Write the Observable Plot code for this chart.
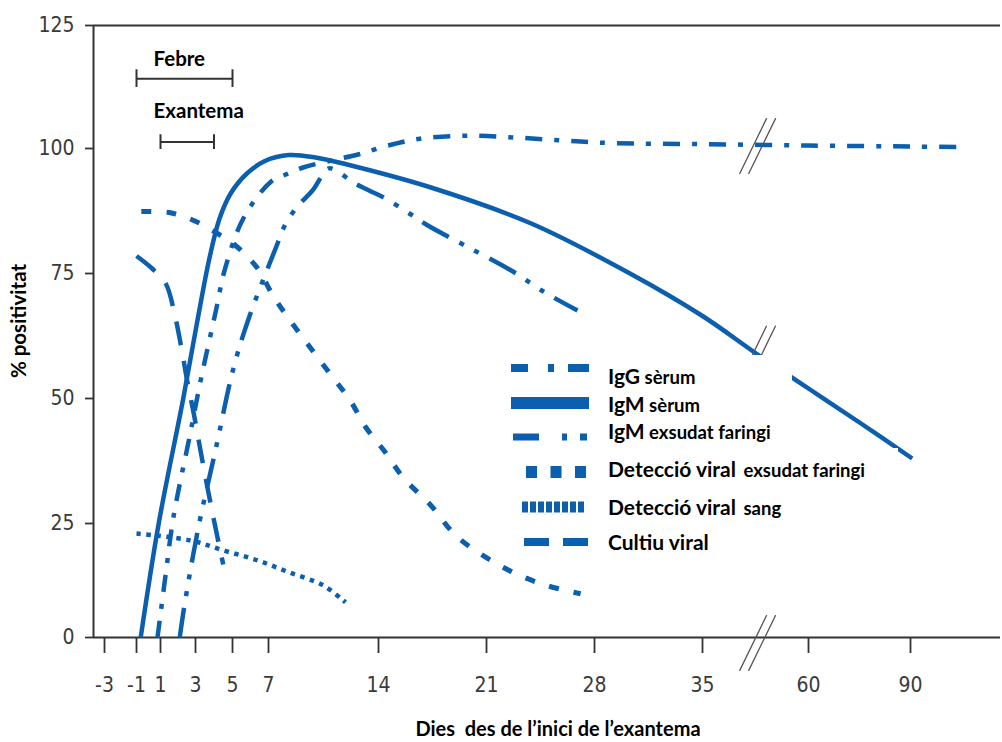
<!DOCTYPE html>
<html><head><meta charset="utf-8">
<script src="https://cdn.jsdelivr.net/npm/d3@7"></script>
<script src="https://cdn.jsdelivr.net/npm/@observablehq/plot@0.6"></script>
<style>
body{margin:0;background:#fff;}
#chart{width:1002px;height:742px;}
</style></head><body><div id="chart"></div>
<script>
// ---- data (day since rash onset, % positivity) ----
const tickDays = [-3, -1, 1, 3, 5, 7, 14, 21, 28, 35, 60, 90];
const yTicks = [0, 25, 50, 75, 100, 125];

const iggSerum = [[0.75,0],[1.3,14],[1.75,26.5],[2.7,43],[3.3,54],[4.1,67.5],[4.6,76],[5.6,86],[7.1,93.2],[8.1,94.8],[9.2,96.2],[11,97.6],[12.7,98.8],[14.6,100.6],[16.7,102],[19.8,102.6],[23,102.2],[26.1,101.6],[29.1,101.1],[35,100.9],[60,100.6],[90,100.4],[104,100.3]];
const igmSerum = [[-0.65,0],[0.85,25],[2.3,50],[3.1,65.5],[3.75,78],[4.3,86],[4.9,91],[5.8,95],[6.8,97.5],[8.3,98.7],[10,98.2],[12,96.8],[17.4,92.2],[23.9,85],[30.3,75],[35,66.5],[48,58.8],[60,52],[75,45.2],[90.5,38]];
const igmFaringi = [[2.1,0],[2.35,6.6],[3.15,24],[4.1,40],[5.05,56],[5.9,66],[7.45,80],[8.1,85],[8.9,88.6],[9.8,91.6],[10.8,96],[11.3,95.6],[12.4,93.2],[13.4,91.6],[14.45,90],[16,87],[17.2,84.6],[19.6,80.6],[22.6,75.6],[24.9,71],[26.9,67.6]];
const viralFaringi = [[-0.6,87.4],[1.5,87.2],[2.9,85.6],[4.1,83.2],[5.2,80.5],[6.4,76],[7.3,70.5],[8.4,65.5],[9.7,60],[11,54.6],[12.2,49.6],[13.2,44.2],[14.45,39.2],[15.6,34.2],[17.4,28.6],[19,22.4],[21,17.5],[22.9,14],[24.9,11.4],[27.1,9.6]];
const viralSang = [[-1,22.8],[2.7,21.3],[4.6,19],[6.4,16.9],[8.3,14.3],[10.5,11.4],[11.9,7.7]];
const cultiuViral = [[-1,78.5],[0.3,76],[1.3,73],[1.8,67],[2.2,60],[2.5,54],[2.9,47],[3.4,37],[3.95,26.5],[4.5,16]];

const periods = [{label:"Febre", start:-1, end:5, level:114.2}, {label:"Exantema", start:1, end:4, level:101.3}];
const breakDay = 48;
const breakLevels = [-1.2, 100.5, 59];

const BLUE = "#0b5fae";
const series = [
  {main:"IgG", sub:"sèrum", data:iggSerum, dash:"17,12,5,12", w:4.5},
  {main:"IgM", sub:"sèrum", data:igmSerum, dash:null, w:4.5},
  {main:"IgM", sub:"exsudat faringi", data:igmFaringi, dash:"30,12,5,12,5,12", w:4.5},
  {main:"Detecció viral", sub:"exsudat faringi", data:viralFaringi, dash:"10,15", w:5},
  {main:"Detecció viral", sub:"sang", data:viralSang, dash:"4.5,5.5", w:4.5},
  {main:"Cultiu viral", sub:"", data:cultiuViral, dash:"24,16", w:4.5}
];

const lineMarks = series.map(s => Plot.line(s.data.map(([day, value]) => ({day, value})), {
  x:"day", y:"value", stroke:BLUE, strokeWidth:s.w, strokeDasharray:s.dash || undefined,
  strokeLinecap:"butt", curve:"catmull-rom"
}));

const slash = {draw(ctx, l){ ctx.moveTo(0,0); ctx.lineTo(0,-l); }};
const breakData = breakLevels.map(v => ({day:breakDay, value:v}));

const LABEL_FONT = "Lato, 'Open Sans', sans-serif";
const capHalf = p => p.label === "Febre" ? 1.8 : 1.5;

const chart = Plot.plot({
  width:1002, height:742,
  marginLeft:93, marginRight:2, marginTop:25, marginBottom:105,
  x:{type:"linear", domain:[-3.7,-3,-1,1,3,5,7,14,21,28,35,60,90,116],
     range:[93,104,136,160,195,232,268,378,486,594,702,808,910,1000]},
  y:{type:"linear", domain:[0,25,50,75,100,125], range:[637,523,398,273,148,25]},
  style:{fontFamily:"'Liberation Sans Narrow','DejaVu Sans Condensed',sans-serif", fontSize:"21px", background:"#fff", overflow:"visible"},
  marks:[
    Plot.axisY(yTicks, {tickSize:8, tickPadding:11, stroke:"#333", fill:"#3a3a3a", strokeWidth:1.8, label:null, tickFormat:d => String(d)}),
    Plot.axisX(tickDays, {tickSize:16, tickPadding:24, stroke:"#333", fill:"#3a3a3a", strokeWidth:1.8, label:null, tickFormat:d => String(d)}),
    Plot.ruleY([0, 125], {stroke:"#333", strokeWidth:2}),
    Plot.ruleX([-3.7], {y1:0, y2:125, stroke:"#333", strokeWidth:2}),
    ...lineMarks,
    // fever / rash periods
    Plot.ruleY(periods, {y:"level", x1:"start", x2:"end", stroke:"#333", strokeWidth:2}),
    Plot.ruleX(periods.flatMap(p => [{x:p.start, p}, {x:p.end, p}]), {x:"x", y1:d => d.p.level - capHalf(d.p), y2:d => d.p.level + capHalf(d.p), stroke:"#333", strokeWidth:2}),
    Plot.text([periods[0]], {x:"start", y:"level", text:"label", dx:17, dy:-19, textAnchor:"start", fontFamily:LABEL_FONT, fontWeight:"bold", fontSize:20.5, fill:"#000"}),
    Plot.text([periods[1]], {x:"start", y:"level", text:"label", dx:-7, dy:-31, textAnchor:"start", fontFamily:LABEL_FONT, fontWeight:"bold", fontSize:20.5, fill:"#000"}),
    // axis breaks
    Plot.vector(breakData, {x:"day", y:"value", length:61, rotate:26, anchor:"middle", shape:slash, stroke:"#555", strokeWidth:1.3, dx:-4.5}),
    Plot.vector(breakData, {x:"day", y:"value", length:61, rotate:26, anchor:"middle", shape:slash, stroke:"#555", strokeWidth:1.3, dx:4.5})
  ]
});
document.getElementById("chart").appendChild(chart);

const svg = d3.select(chart);
// ---- axis titles ----
svg.append("text").attr("x",558).attr("y",729).attr("dy","0.35em").attr("text-anchor","middle")
  .attr("font-family",LABEL_FONT).attr("font-weight","bold").attr("font-size",20).attr("fill","#000")
  .text("Dies\u00a0 des de l’inici de l’exantema");
svg.append("text").attr("transform","translate(19,321) rotate(-90)").attr("dy","0.35em").attr("text-anchor","middle")
  .attr("font-family",LABEL_FONT).attr("font-weight","bold").attr("font-size",20.5).attr("fill","#000")
  .text("% positivitat");

// ---- legend ----
const lg = svg.append("g").attr("class","legend");
lg.append("rect").attr("x",495).attr("y",355).attr("width",297).attr("height",207).attr("fill","#fff");
lg.append("rect").attr("x",792).attr("y",448).attr("width",106).attr("height",114).attr("fill","#fff");
const swatches = [
  {y:368, x1:511, x2:589, w:8, dash:"17,20,6,14,21", ty:377},
  {y:403, x1:511, x2:589, w:12, dash:null, ty:405},
  {y:437, x1:513, x2:587, w:7, dash:"26,23,5,13,7", ty:432},
  {y:472, x1:526, x2:587, w:12, dash:"11,13.5", ty:470},
  {y:507, x1:522, x2:586, w:11, dash:"6,2", ty:508},
  {y:542, x1:524, x2:589, w:8, dash:"25,14", ty:543}
];
series.forEach((s, i) => {
  const sw = swatches[i];
  const ln = lg.append("line").attr("x1",sw.x1).attr("x2",sw.x2).attr("y1",sw.y).attr("y2",sw.y)
    .attr("stroke",BLUE).attr("stroke-width",sw.w);
  if (sw.dash) ln.attr("stroke-dasharray", sw.dash);
  const t = lg.append("text").attr("x",608).attr("y",sw.ty).attr("dy","0.35em").attr("text-anchor","start")
    .attr("font-family",LABEL_FONT).attr("font-weight","bold").attr("fill","#000").attr("font-size",21);
  t.append("tspan").text(s.main);
  if (s.sub) t.append("tspan").attr("font-size",18.5).attr("dx", s.main.length > 4 ? 3 : 0).text(" " + s.sub);
});
</script></body></html>
